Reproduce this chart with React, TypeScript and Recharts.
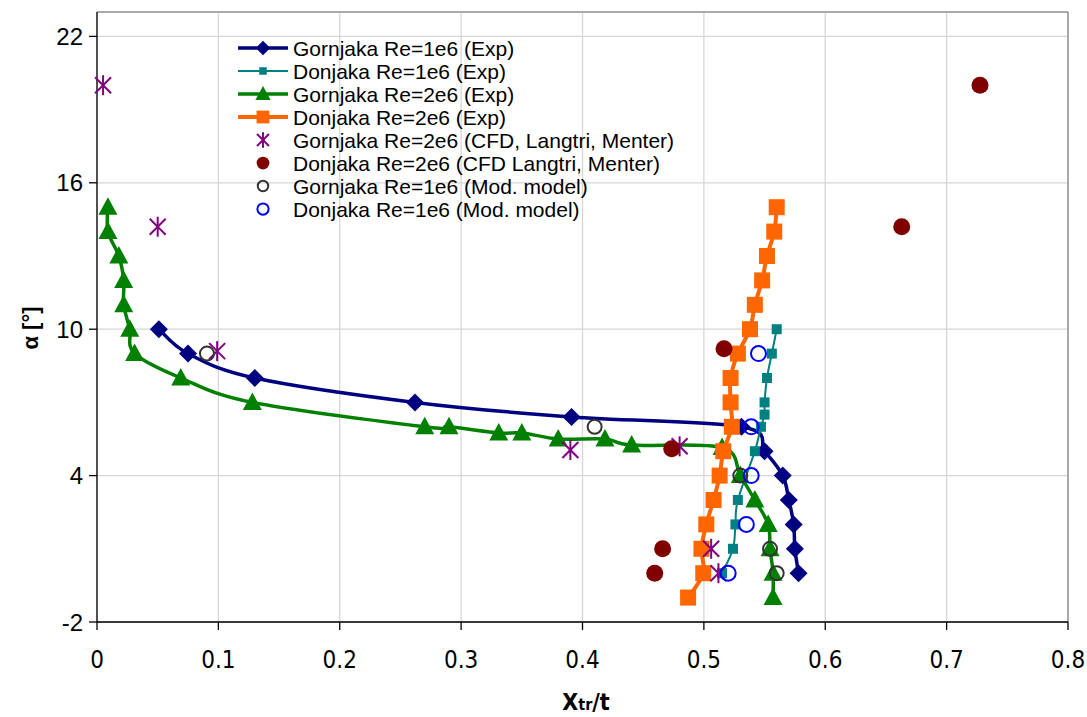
import React from 'react';
import { ScatterChart, Scatter, XAxis, YAxis, CartesianGrid, ReferenceLine, Customized } from 'recharts';

const FONT = '"Liberation Sans", Arial, sans-serif';
const NARROW = '"Liberation Sans Narrow", "Arial Narrow", "DejaVu Sans Condensed", "Liberation Sans", sans-serif';

const xTicks = [0, 0.1, 0.2, 0.3, 0.4, 0.5, 0.6, 0.7, 0.8];
const yTicks = [-2, 4, 10, 16, 22];

const gornjaka1e6Exp = [
  { x: 0.051, y: 10 }, { x: 0.075, y: 9 }, { x: 0.13, y: 8 }, { x: 0.262, y: 7 },
  { x: 0.391, y: 6.4 }, { x: 0.531, y: 6 }, { x: 0.55, y: 5 }, { x: 0.565, y: 4 },
  { x: 0.57, y: 3 }, { x: 0.574, y: 2 }, { x: 0.575, y: 1 }, { x: 0.578, y: 0 },
];

const donjaka1e6Exp = [
  { x: 0.56, y: 10 }, { x: 0.556, y: 9 }, { x: 0.552, y: 8 }, { x: 0.55, y: 7 },
  { x: 0.55, y: 6.5 }, { x: 0.547, y: 6 }, { x: 0.542, y: 5 }, { x: 0.528, y: 3 },
  { x: 0.526, y: 2 }, { x: 0.524, y: 1 }, { x: 0.515, y: 0 },
];

const gornjaka2e6Exp = [
  { x: 0.009, y: 15 }, { x: 0.009, y: 14 }, { x: 0.018, y: 13 }, { x: 0.022, y: 12 },
  { x: 0.022, y: 11 }, { x: 0.027, y: 10 }, { x: 0.031, y: 9 }, { x: 0.069, y: 8 },
  { x: 0.128, y: 7 }, { x: 0.27, y: 6 }, { x: 0.29, y: 6 }, { x: 0.331, y: 5.75 },
  { x: 0.35, y: 5.75 }, { x: 0.38, y: 5.5 }, { x: 0.4185, y: 5.5 }, { x: 0.4405, y: 5.25 },
  { x: 0.515, y: 5.15 }, { x: 0.53, y: 4 }, { x: 0.542, y: 3 }, { x: 0.553, y: 2 },
  { x: 0.5545, y: 1 }, { x: 0.557, y: 0 }, { x: 0.557, y: -1 },
];

const donjaka2e6Exp = [
  { x: 0.56, y: 15 }, { x: 0.558, y: 14 }, { x: 0.552, y: 13 }, { x: 0.548, y: 12 },
  { x: 0.542, y: 11 }, { x: 0.538, y: 10 }, { x: 0.528, y: 9 }, { x: 0.522, y: 8 },
  { x: 0.522, y: 7 }, { x: 0.523, y: 6 }, { x: 0.516, y: 5 }, { x: 0.513, y: 4 },
  { x: 0.508, y: 3 }, { x: 0.502, y: 2 }, { x: 0.498, y: 1 }, { x: 0.4995, y: 0 },
  { x: 0.487, y: -1 },
];

const gornjaka2e6Cfd = [
  { x: 0.005, y: 20 }, { x: 0.05, y: 14.2 }, { x: 0.099, y: 9.1 }, { x: 0.39, y: 5.05 },
  { x: 0.48, y: 5.2 }, { x: 0.506, y: 1 }, { x: 0.512, y: 0 },
];

const donjaka2e6Cfd = [
  { x: 0.4595, y: 0 }, { x: 0.466, y: 1 }, { x: 0.4735, y: 5.1 }, { x: 0.5166, y: 9.2 },
  { x: 0.663, y: 14.2 }, { x: 0.7275, y: 20 },
];

const gornjaka1e6Mod = [
  { x: 0.0906, y: 9 }, { x: 0.41, y: 6 }, { x: 0.53, y: 4 }, { x: 0.5545, y: 1 }, { x: 0.56, y: 0 },
];

const donjaka1e6Mod = [
  { x: 0.545, y: 9 }, { x: 0.539, y: 6 }, { x: 0.539, y: 4 }, { x: 0.535, y: 2 }, { x: 0.52, y: 0 },
];

const legendLabels = [
  'Gornjaka Re=1e6 (Exp)',
  'Donjaka Re=1e6 (Exp)',
  'Gornjaka Re=2e6 (Exp)',
  'Donjaka Re=2e6 (Exp)',
  'Gornjaka Re=2e6 (CFD, Langtri, Menter)',
  'Donjaka Re=2e6 (CFD Langtri, Menter)',
  'Gornjaka Re=1e6 (Mod. model)',
  'Donjaka Re=1e6 (Mod. model)',
];

type Kind = 'diamond' | 'smallSquare' | 'triangle' | 'bigSquare' | 'asterisk' | 'dot' | 'ringGray' | 'ringBlue';

const Marker = ({ kind, cx, cy, s = 1 }: { kind: Kind; cx: number; cy: number; s?: number }) => {
  if (cx == null || cy == null || isNaN(cx) || isNaN(cy)) return null;
  switch (kind) {
    case 'diamond': {
      const h = 9 * s;
      return <polygon points={`${cx},${cy - h} ${cx + h},${cy} ${cx},${cy + h} ${cx - h},${cy}`} fill="#000080" />;
    }
    case 'smallSquare': {
      const h = 5 * s;
      return <rect x={cx - h} y={cy - h} width={2 * h} height={2 * h} fill="#008080" />;
    }
    case 'triangle': {
      const w = 9.5 * s;
      const t = 10 * s;
      const b = 7.5 * s;
      return <polygon points={`${cx},${cy - t} ${cx + w},${cy + b} ${cx - w},${cy + b}`} fill="#008000" />;
    }
    case 'bigSquare': {
      const h = 8 * s;
      return <rect x={cx - h} y={cy - h} width={2 * h} height={2 * h} fill="#FF6600" />;
    }
    case 'asterisk': {
      const h = 9 * s;
      const d = 8 * s;
      return (
        <g stroke="#800080" strokeWidth={2}>
          <line x1={cx} y1={cy - h - 1} x2={cx} y2={cy + h + 1} />
          <line x1={cx - d} y1={cy - d} x2={cx + d} y2={cy + d} />
          <line x1={cx - d} y1={cy + d} x2={cx + d} y2={cy - d} />
        </g>
      );
    }
    case 'dot':
      return <circle cx={cx} cy={cy} r={8.5 * s} fill="#800000" />;
    case 'ringGray':
      return <circle cx={cx} cy={cy} r={7 * s} fill="none" stroke="#333333" strokeWidth={2} />;
    case 'ringBlue':
      return <circle cx={cx} cy={cy} r={7.5 * s} fill="none" stroke="#0000FF" strokeWidth={2} />;
  }
  return null;
};

// Excel-like smoothed line (Catmull-Rom through the points)
function excelSmooth(context: any) {
  let pts: [number, number][] = [];
  return {
    areaStart() {},
    areaEnd() {},
    lineStart() {
      pts = [];
    },
    lineEnd() {
      const n = pts.length;
      if (!n) return;
      context.moveTo(pts[0][0], pts[0][1]);
      for (let i = 0; i < n - 1; i++) {
        const p0 = pts[i - 1] || pts[i];
        const p1 = pts[i];
        const p2 = pts[i + 1];
        const p3 = pts[i + 2] || p2;
        context.bezierCurveTo(
          p1[0] + (p2[0] - p0[0]) / 6,
          p1[1] + (p2[1] - p0[1]) / 6,
          p2[0] - (p3[0] - p1[0]) / 6,
          p2[1] - (p3[1] - p1[1]) / 6,
          p2[0],
          p2[1],
        );
      }
    },
    point(x: number, y: number) {
      pts.push([+x, +y]);
    },
  };
}

const legendItems: { kind: Kind; line?: { color: string; width: number } }[] = [
  { kind: 'diamond', line: { color: '#000080', width: 3.5 } },
  { kind: 'smallSquare', line: { color: '#008080', width: 2 } },
  { kind: 'triangle', line: { color: '#008000', width: 3.5 } },
  { kind: 'bigSquare', line: { color: '#FF6600', width: 4 } },
  { kind: 'asterisk' },
  { kind: 'dot' },
  { kind: 'ringGray' },
  { kind: 'ringBlue' },
];

const Titles = () => (
  <g fontFamily={FONT} fontWeight="bold" fill="#000">
    <text x={38} y={328} fontSize={22} textAnchor="middle" transform="rotate(-90 38 328)">
      α [°]
    </text>
    <text x={586} y={710} fontSize={23} textAnchor="middle" fontFamily={NARROW}>
      <tspan>X</tspan>
      <tspan fontSize={16}>tr</tspan>
      <tspan>/t</tspan>
    </text>
  </g>
);

const LegendBox = () => (
  <g fontFamily={FONT} fontSize={21} fill="#000">
    {legendLabels.map((label, i) => {
      const cy = 48 + i * 23;
      const item = legendItems[i];
      return (
        <g key={label}>
          {item.line && <line x1={238} y1={cy} x2={288} y2={cy} stroke={item.line.color} strokeWidth={item.line.width} />}
          <Marker kind={item.kind} cx={263} cy={cy} s={item.kind === 'diamond' || item.kind === 'triangle' || item.kind === 'bigSquare' ? 0.8 : 0.75} />
          <text x={293} y={cy + 7.5}>{label}</text>
        </g>
      );
    })}
  </g>
);

const series: { name: string; data: { x: number; y: number }[]; kind: Kind; line?: { color: string; width: number } }[] = [
  { name: legendLabels[0], data: gornjaka1e6Exp, kind: 'diamond', line: { color: '#000080', width: 3.5 } },
  { name: legendLabels[1], data: donjaka1e6Exp, kind: 'smallSquare', line: { color: '#008080', width: 2 } },
  { name: legendLabels[2], data: gornjaka2e6Exp, kind: 'triangle', line: { color: '#008000', width: 3.5 } },
  { name: legendLabels[3], data: donjaka2e6Exp, kind: 'bigSquare', line: { color: '#FF6600', width: 4 } },
  { name: legendLabels[4], data: gornjaka2e6Cfd, kind: 'asterisk' },
  { name: legendLabels[5], data: donjaka2e6Cfd, kind: 'dot' },
  { name: legendLabels[6], data: gornjaka1e6Mod, kind: 'ringGray' },
  { name: legendLabels[7], data: donjaka1e6Mod, kind: 'ringBlue' },
];

export default function App() {
  return (
    <div style={{ position: 'absolute', left: 0, top: 0, width: 1087, height: 717, background: '#fff' }}>
      <ScatterChart width={1087} height={717} margin={{ top: 12, right: 19, bottom: 0, left: 0 }}>
        <CartesianGrid stroke="#d6d6d6" strokeWidth={1.3} />
        <XAxis
          type="number"
          dataKey="x"
          domain={[0, 0.8]}
          ticks={xTicks}
          height={95}
          tickSize={8}
          tickMargin={21}
          tickFormatter={(v: number) => (v === 0 ? '0' : v.toFixed(1))}
          axisLine={{ stroke: '#000', strokeWidth: 1.3 }}
          tickLine={{ stroke: '#000', strokeWidth: 1.3 }}
          tick={{ fill: '#000', fontSize: 24, fontFamily: NARROW }}
          interval={0}
        />
        <YAxis
          type="number"
          dataKey="y"
          domain={[-2, 23]}
          ticks={yTicks}
          width={97}
          tickSize={8}
          tickMargin={6}
          axisLine={{ stroke: '#000', strokeWidth: 1.3 }}
          tickLine={{ stroke: '#000', strokeWidth: 1.3 }}
          tick={{ fill: '#000', fontSize: 24, fontFamily: FONT }}
          interval={0}
        />
        <ReferenceLine y={23} stroke="#999" strokeWidth={1.3} />
        <ReferenceLine x={0.8} stroke="#888" strokeWidth={1.3} />
        {series.map((s) => (
          <Scatter
            key={s.name}
            name={s.name}
            data={s.data}
            isAnimationActive={false}
            line={s.line ? { stroke: s.line.color, strokeWidth: s.line.width } : false}
            lineJointType={excelSmooth as any}
            shape={(p: any) => <Marker kind={s.kind} cx={p.cx} cy={p.cy} />}
          />
        ))}
        <Customized component={Titles} />
        <Customized component={LegendBox} />
      </ScatterChart>
    </div>
  );
}
